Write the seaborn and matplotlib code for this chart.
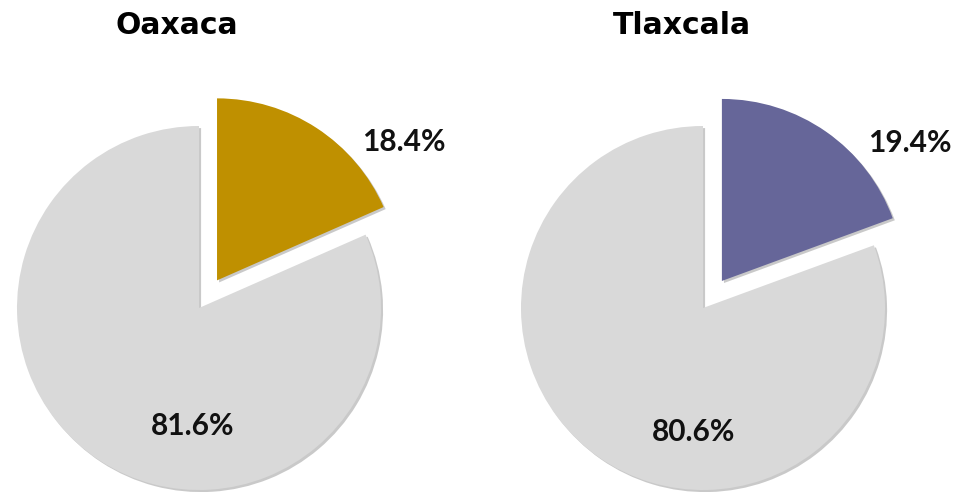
import matplotlib
matplotlib.use("Agg")
import matplotlib.pyplot as plt
import matplotlib.patheffects as pe
import seaborn as sns

# Share of each state (highlighted group vs. the rest), in percent
states = ["Oaxaca", "Tlaxcala"]
highlight_share = [18.4, 19.4]
rest_share = [81.6, 80.6]
highlight_colors = ["#BF9000", "#666699"]
rest_color = "#D9D9D9"

sns.set_theme(style="white")
plt.rcParams["font.family"] = ["Lato", "DejaVu Sans"]

W, H = 958, 492
fig = plt.figure(figsize=(W / 100, H / 100), dpi=100)
ax = fig.add_axes([0, 0, 1, 1])
ax.set_xlim(0, W)
ax.set_ylim(0, H)
ax.set_aspect("equal")
ax.axis("off")

# Layout in figure pixels (y measured upwards)
centers = [(199, 184), (703, 184)]
radius = 182
explode_px = 33
title_pos = [(177, 467), (682, 467)]
big_label_off = [(-6, -118), (-9, -124)]
small_label_off = [(205, 166), (207, 165)]

shadow = [pe.SimplePatchShadow(offset=(1.5, -1.5), shadow_rgbFace="#666666", alpha=0.35),
          pe.Normal()]

for i, state in enumerate(states):
    cx, cy = centers[i]
    wedges, _ = ax.pie(
        [highlight_share[i], rest_share[i]],
        colors=[highlight_colors[i], rest_color],
        explode=[explode_px, 0],
        startangle=90,
        counterclock=False,
        radius=radius,
        center=(cx, cy),
        frame=True,
        wedgeprops=dict(linewidth=0),
    )
    for w in wedges:
        w.set_path_effects(shadow)
    ax.text(title_pos[i][0], title_pos[i][1], state, ha="center", va="center",
            fontsize=21.5, fontweight="bold", color="black", family="DejaVu Sans")
    ax.text(cx + small_label_off[i][0], cy + small_label_off[i][1],
            f"{highlight_share[i]:.1f}%", ha="center", va="center",
            fontsize=21.5, fontweight="bold", color="#111111")
    ax.text(cx + big_label_off[i][0], cy + big_label_off[i][1],
            f"{rest_share[i]:.1f}%", ha="center", va="center",
            fontsize=21.5, fontweight="bold", color="#111111")

ax.set_xlim(0, W)
ax.set_ylim(0, H)
ax.axis("off")
fig.savefig("out.png", dpi=100)
